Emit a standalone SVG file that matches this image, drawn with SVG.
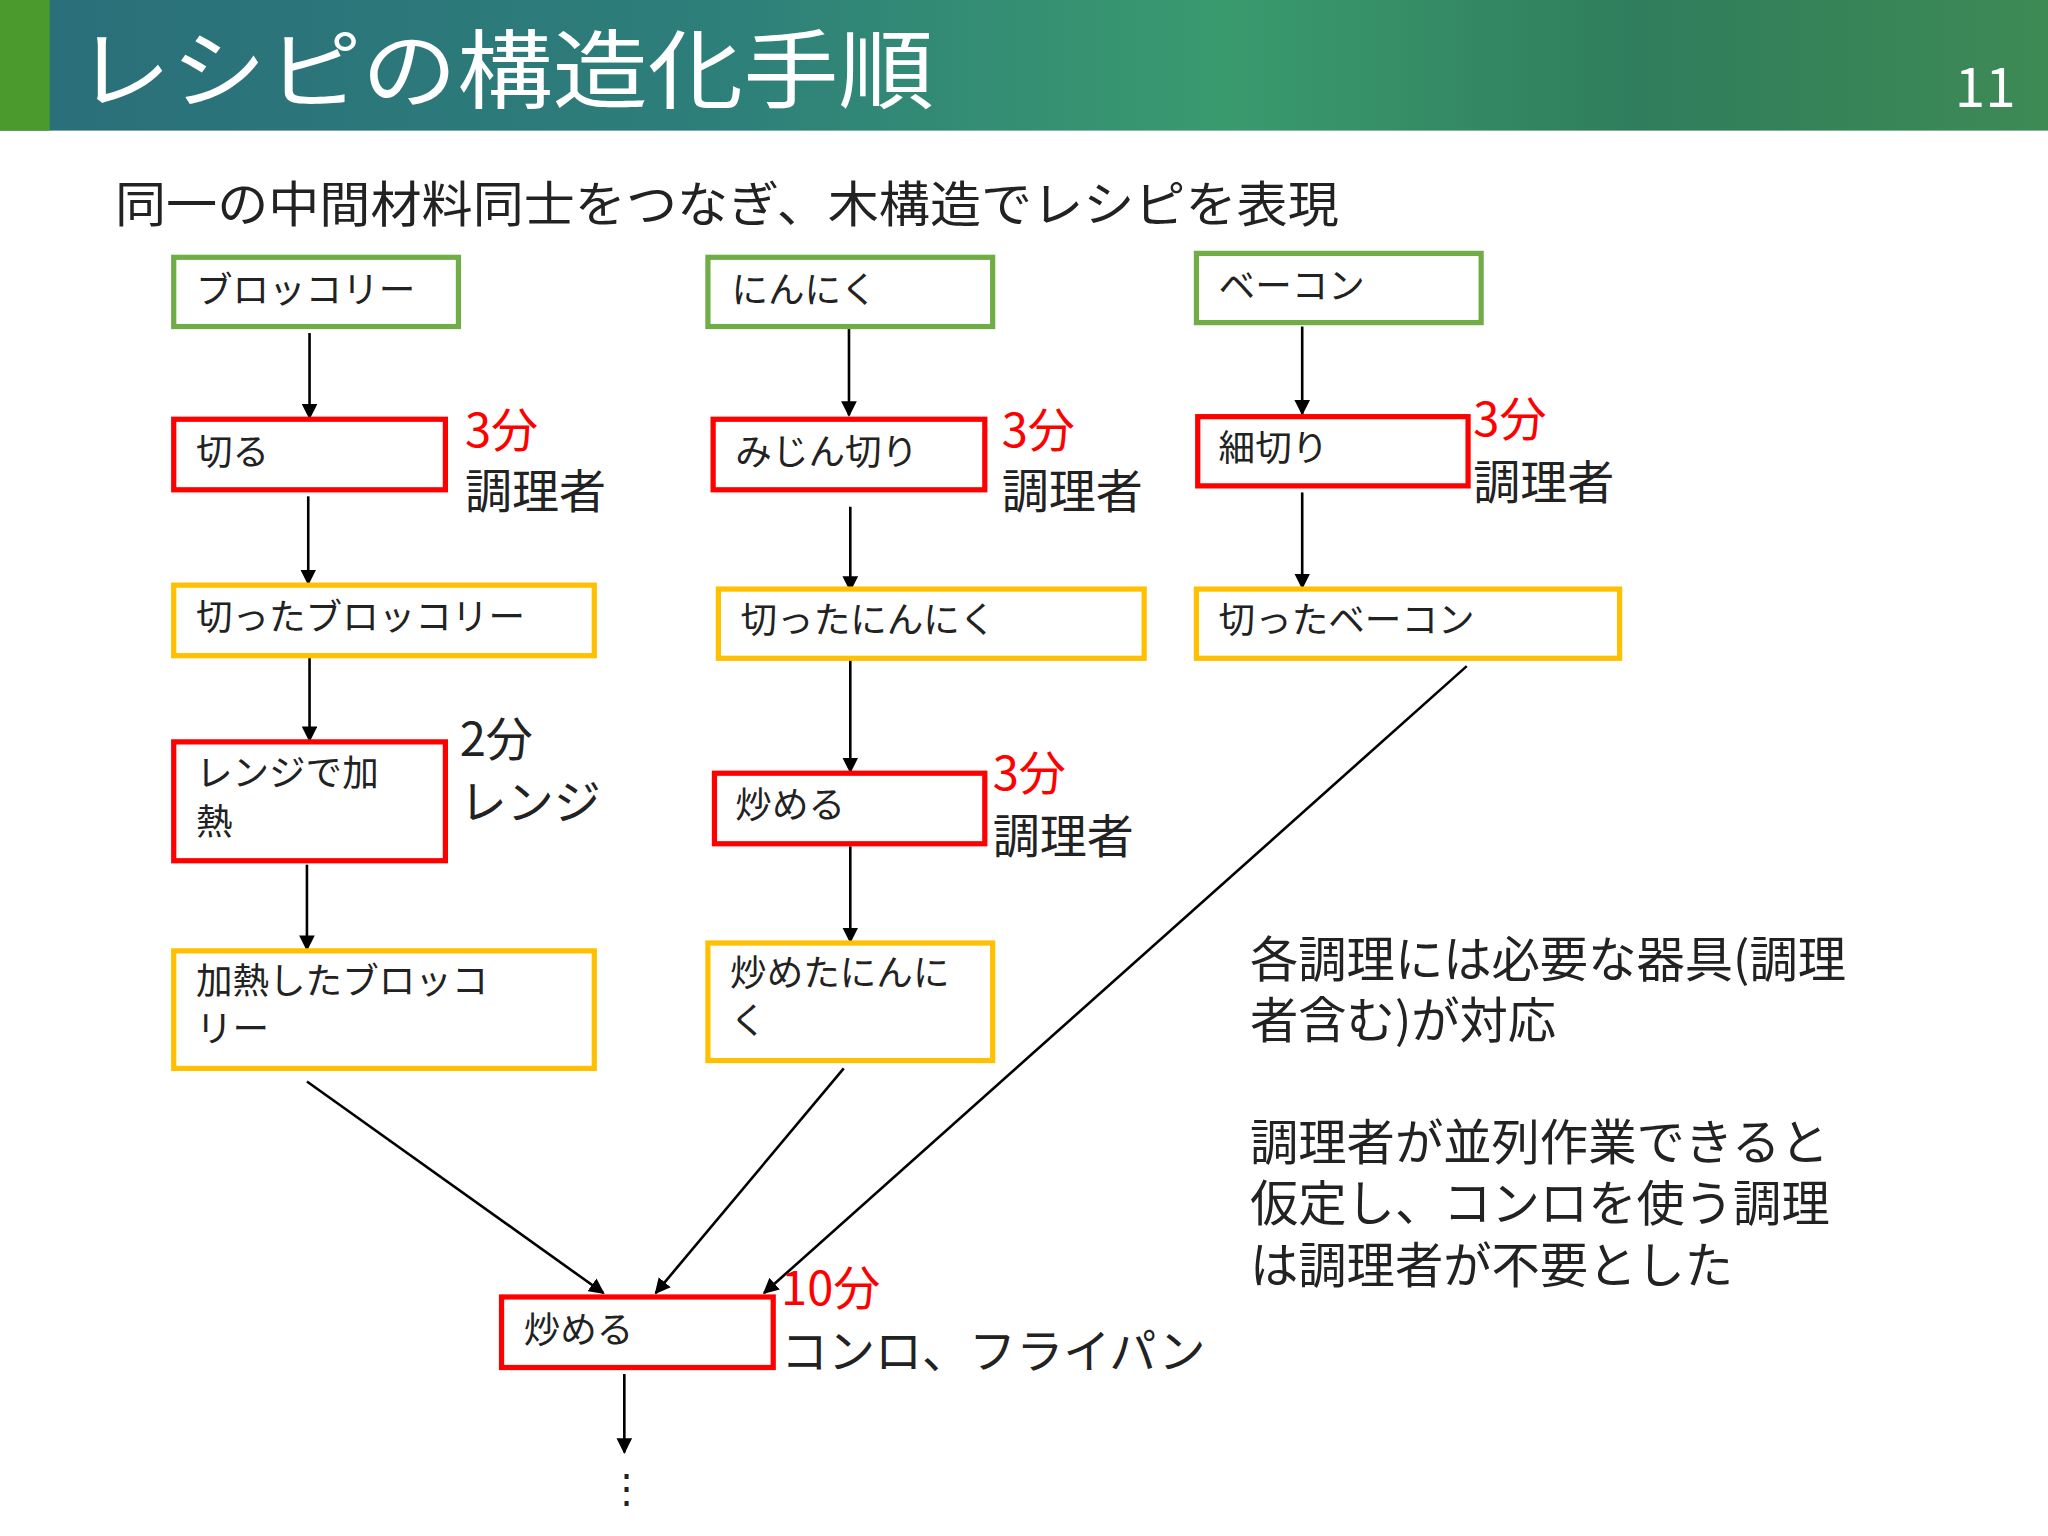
<svg xmlns="http://www.w3.org/2000/svg" width="2048" height="1536" viewBox="0 0 2048 1536">
<defs>
<linearGradient id="hg" x1="0" y1="0" x2="1" y2="0">
<stop offset="0" stop-color="#2a6e7a"/><stop offset="0.35" stop-color="#2d7f7a"/><stop offset="0.6" stop-color="#3a9a6e"/><stop offset="0.8" stop-color="#2f7d5c"/><stop offset="1" stop-color="#3e8a55"/>
</linearGradient>
<marker id="ah" viewBox="0 0 10 10" refX="9" refY="5" markerWidth="6" markerHeight="6" orient="auto-start-reverse"><path d="M0,0 L10,5 L0,10 z" fill="#000"/></marker>
<style>
text{font-family:"Noto Sans CJK JP","Noto Sans",sans-serif;}
.g{fill:#fff;stroke:#70AD47;stroke-width:4}
.r{fill:#fff;stroke:#FF0000;stroke-width:4}
.y{fill:#fff;stroke:#FFC000;stroke-width:4}
.bt{font-size:28px;fill:#222}
.red{font-size:36px;fill:#FF0000}
.blk{font-size:36px;fill:#222}
.c line{stroke:#000;stroke-width:2;marker-end:url(#ah)}
</style>
</defs>
<g transform="scale(1.30612)">
<rect x="0" y="0" width="1568" height="100" fill="url(#hg)"/>
<rect x="0" y="0" width="38" height="100" fill="#4a9a2e"/>
<text x="58" y="78" font-size="66" fill="#fff" textLength="657" lengthAdjust="spacingAndGlyphs">レシピの構造化手順</text>
<text x="1520" y="82" font-size="42" fill="#fff" text-anchor="middle">11</text>
<text x="88" y="170" font-size="37" fill="#222" textLength="937" lengthAdjust="spacingAndGlyphs">同一の中間材料同士をつなぎ、木構造でレシピを表現</text>

<g class="c">
<line x1="237" y1="255" x2="237" y2="320"/>
<line x1="236" y1="380" x2="236" y2="447"/>
<line x1="237" y1="503" x2="237" y2="567"/>
<line x1="235" y1="662" x2="235" y2="727"/>
<line x1="650" y1="250" x2="650" y2="318"/>
<line x1="651" y1="388" x2="651" y2="452"/>
<line x1="651" y1="504" x2="651" y2="591"/>
<line x1="651" y1="648" x2="651" y2="721"/>
<line x1="997" y1="250" x2="997" y2="317"/>
<line x1="997" y1="377" x2="997" y2="450"/>
<line x1="235" y1="828" x2="462" y2="990"/>
<line x1="646" y1="818" x2="502" y2="990"/>
<line x1="1123" y1="510" x2="585" y2="990"/>
<line x1="478" y1="1052" x2="478" y2="1112"/>
</g>
<text x="480" y="1150" font-size="30" fill="#222" text-anchor="middle">⋮</text>

<g id="n1"><rect class="g" x="133" y="197" width="218" height="53"/><text class="bt" x="150" y="232">ブロッコリー</text></g>
<g id="n2"><rect class="g" x="542" y="197" width="218" height="53"/><text class="bt" x="560" y="232">にんにく</text></g>
<g id="n3"><rect class="g" x="916" y="194" width="218" height="53"/><text class="bt" x="933" y="229">ベーコン</text></g>
<g id="n4"><rect class="r" x="133" y="321" width="208" height="54"/><text class="bt" x="150" y="356">切る</text></g>
<g id="n5"><rect class="r" x="546" y="321" width="208" height="54"/><text class="bt" x="563" y="356">みじん切り</text></g>
<g id="n6"><rect class="r" x="917" y="319" width="207" height="53"/><text class="bt" x="933" y="353">細切り</text></g>
<g id="n7"><rect class="y" x="133" y="448" width="322" height="54"/><text class="bt" x="150" y="482">切ったブロッコリー</text></g>
<g id="n8"><rect class="y" x="550" y="451" width="326" height="53"/><text class="bt" x="567" y="485">切ったにんにく</text></g>
<g id="n9"><rect class="y" x="916" y="451" width="324" height="53"/><text class="bt" x="933" y="485">切ったベーコン</text></g>
<g id="n10"><rect class="r" x="133" y="568" width="208" height="91"/><text class="bt" x="150" y="602">レンジで加</text><text class="bt" x="150" y="639">熱</text></g>
<g id="n11"><rect class="r" x="547" y="592" width="207" height="54"/><text class="bt" x="563" y="626">炒める</text></g>
<g id="n12"><rect class="y" x="133" y="728" width="322" height="90"/><text class="bt" x="150" y="761">加熱したブロッコ</text><text class="bt" x="150" y="798">リー</text></g>
<g id="n13"><rect class="y" x="542" y="722" width="218" height="90"/><text class="bt" x="559" y="755">炒めたにんに</text><text class="bt" x="559" y="792">く</text></g>
<g id="n14"><rect class="r" x="384" y="993" width="208" height="54"/><text class="bt" x="401" y="1028">炒める</text></g>

<text class="red" x="356" y="342">3分</text><text class="blk" x="356" y="389">調理者</text>
<text class="red" x="767" y="342">3分</text><text class="blk" x="767" y="389">調理者</text>
<text class="red" x="1128" y="334">3分</text><text class="blk" x="1128" y="382">調理者</text>
<text class="blk" x="352" y="579">2分</text><text class="blk" x="352" y="627">レンジ</text>
<text class="red" x="760" y="605">3分</text><text class="blk" x="760" y="653">調理者</text>
<text class="red" x="598" y="999">10分</text><text class="blk" x="598" y="1047">コンロ、フライパン</text>

<g font-size="37" fill="#222">
<text x="957" y="748">各調理には必要な器具(調理</text>
<text x="957" y="795">者含む)が対応</text>
<text x="957" y="888">調理者が並列作業できると</text>
<text x="957" y="935">仮定し、コンロを使う調理</text>
<text x="957" y="982">は調理者が不要とした</text>
</g>
</g>
</svg>
